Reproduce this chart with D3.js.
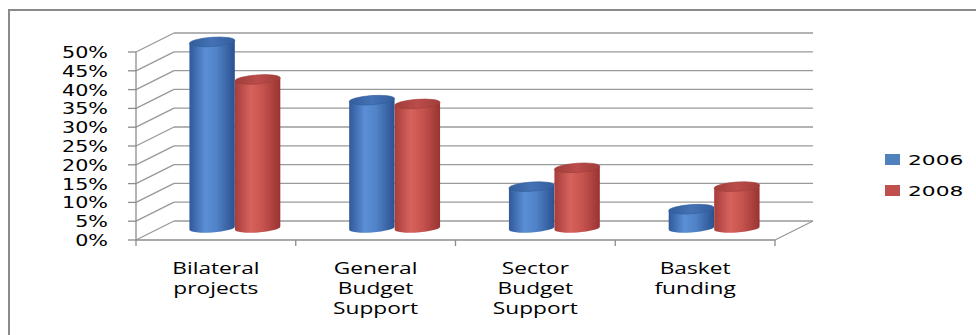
<!DOCTYPE html>
<html><head><meta charset="utf-8">
<script src="https://cdn.jsdelivr.net/npm/d3@7"></script>
<style>html,body{margin:0;padding:0;background:#fff;}svg{display:block;}</style>
</head><body>
<svg id="chart" width="976" height="335"></svg>
<script>
const categories = ["Bilateral projects", "General Budget Support", "Sector Budget Support", "Basket funding"];
const series = ["2006", "2008"];
const values2006 = [0.495, 0.34, 0.11, 0.05];
const values2008 = [0.395, 0.33, 0.16, 0.11];
const yTicks = [0, 0.05, 0.10, 0.15, 0.20, 0.25, 0.30, 0.35, 0.40, 0.45, 0.50];

const svg = d3.select("#chart");
const W = 976, H = 335;
const dx = 38, dy = -19;
const y = d3.scaleLinear().domain([0, 0.5]).range([240, 52]);
const x = d3.scaleBand().domain(categories).range([136, 775]).padding(0);
const barW = 45.5;
const xs = d3.scaleBand().domain(series).range([0, barW * 2]);
const color = d3.scaleOrdinal().domain(series).range(["blue", "red"]);
const fmt = d3.format(".0%");

// frame
svg.append("path").attr("d", `M9,${H} L9,10 L${W},10`).attr("fill", "none")
  .attr("stroke", "#8a8a8a").attr("stroke-width", 2);

const defs = svg.append("defs");
const pal = {
  blue: {stops: [["0%", "#30599a"], ["35%", "#5b8fd6"], ["60%", "#4f82c6"], ["100%", "#2c5190"]], top: "#4472b4", topEdge: "#335e9c"},
  red: {stops: [["0%", "#a73d3a"], ["35%", "#d6625e"], ["60%", "#c85450"], ["100%", "#993431"]], top: "#bb4c49", topEdge: "#a03e3b"}
};
Object.entries(pal).forEach(([k, p]) => {
  const g = defs.append("linearGradient").attr("id", "g-" + k).attr("x1", "0").attr("x2", "1").attr("y1", "0").attr("y2", "0");
  p.stops.forEach(s => g.append("stop").attr("offset", s[0]).attr("stop-color", s[1]));
  const t = defs.append("linearGradient").attr("id", "t-" + k).attr("x1", "0").attr("x2", "1").attr("y1", "0").attr("y2", "0");
  t.append("stop").attr("offset", "0%").attr("stop-color", p.topEdge);
  t.append("stop").attr("offset", "50%").attr("stop-color", p.top);
  t.append("stop").attr("offset", "100%").attr("stop-color", p.topEdge);
});

const gridColor = "#9a9a9a";
const grid = svg.append("g").attr("stroke", gridColor).attr("stroke-width", 1.3).attr("fill", "none");
yTicks.forEach(t => {
  grid.append("line").attr("x1", 136 + dx).attr("x2", 775 + dx).attr("y1", y(t) + dy).attr("y2", y(t) + dy);
  grid.append("line").attr("x1", 136).attr("x2", 136 + dx).attr("y1", y(t)).attr("y2", y(t) + dy);
});
grid.append("line").attr("x1", 775).attr("x2", 775 + dx).attr("y1", y(0)).attr("y2", y(0) + dy);

const axisG = svg.append("g").attr("stroke", "#8c8c8c").attr("stroke-width", 1.3);
axisG.append("line").attr("x1", 136).attr("x2", 136).attr("y1", y(0.5)).attr("y2", y(0));
axisG.append("line").attr("x1", 136).attr("x2", 775).attr("y1", y(0)).attr("y2", y(0));
yTicks.forEach(t => axisG.append("line").attr("x1", 128).attr("x2", 136).attr("y1", y(t)).attr("y2", y(t)));
const catEdges = categories.map(c => x(c)).concat([x(categories[categories.length - 1]) + x.bandwidth()]);
catEdges.forEach(e => axisG.append("line").attr("x1", e).attr("x2", e).attr("y1", y(0)).attr("y2", y(0) + 6));

function stretched(g, tx, ty, sx, text, anchor, size, family) {
  g.append("text").attr("transform", `translate(${tx},${ty}) scale(${sx},1)`)
    .attr("text-anchor", anchor).attr("font-size", size).attr("font-family", family)
    .attr("fill", "#000").text(text);
}

const yl = svg.append("g");
yTicks.forEach(t => stretched(yl, 108, y(t) + 6, 1.38, fmt(t), "end", 15, "DejaVu Sans"));

const cl = svg.append("g");
categories.forEach(c => {
  const cx = x(c) + x.bandwidth() / 2;
  c.split(" ").forEach((w, i) => stretched(cl, cx, 274 + i * 20, 1.42, w, "middle", 16, "Open Sans"));
});

const data = [];
categories.forEach((c, i) => {
  data.push({c, s: "2006", v: values2006[i]});
  data.push({c, s: "2008", v: values2008[i]});
});
const rot = -4, rad = rot * Math.PI / 180;
const baseShift = dy / 2 - 2.5;
const bars = svg.append("g");
data.forEach(d => {
  const left = x(d.c) + x.bandwidth() / 2 - barW + dx / 2 + xs(d.s);
  const rx = xs.bandwidth() / 2, ry = 4.6;
  const cx = left + rx;
  const yb = y(0) + baseShift, yt = y(d.v) + baseShift;
  const ox = rx * Math.cos(rad), oy = rx * Math.sin(rad);
  const k = color(d.s);
  const path = `M${cx - ox},${yt - oy} L${cx - ox},${yb - oy} A${rx},${ry} ${rot} 0 0 ${cx + ox},${yb + oy} L${cx + ox},${yt + oy} Z`;
  bars.append("path").attr("d", path).attr("fill", `url(#g-${k})`);
  bars.append("ellipse").attr("cx", cx).attr("cy", yt).attr("rx", rx).attr("ry", ry)
    .attr("transform", `rotate(${rot},${cx},${yt})`).attr("fill", `url(#t-${k})`)
    .attr("stroke", pal[k].topEdge).attr("stroke-width", 0.6);
});

const lg = svg.append("g");
series.forEach((s, i) => {
  const yy = 154 + i * 31;
  lg.append("rect").attr("x", 885).attr("y", yy).attr("width", 15).attr("height", 11)
    .attr("fill", s === "2006" ? "#4f81bd" : "#c0504d");
  stretched(lg, 908, yy + 11, 1.5, s, "start", 14.5, "DejaVu Sans");
});
</script>
</body></html>
